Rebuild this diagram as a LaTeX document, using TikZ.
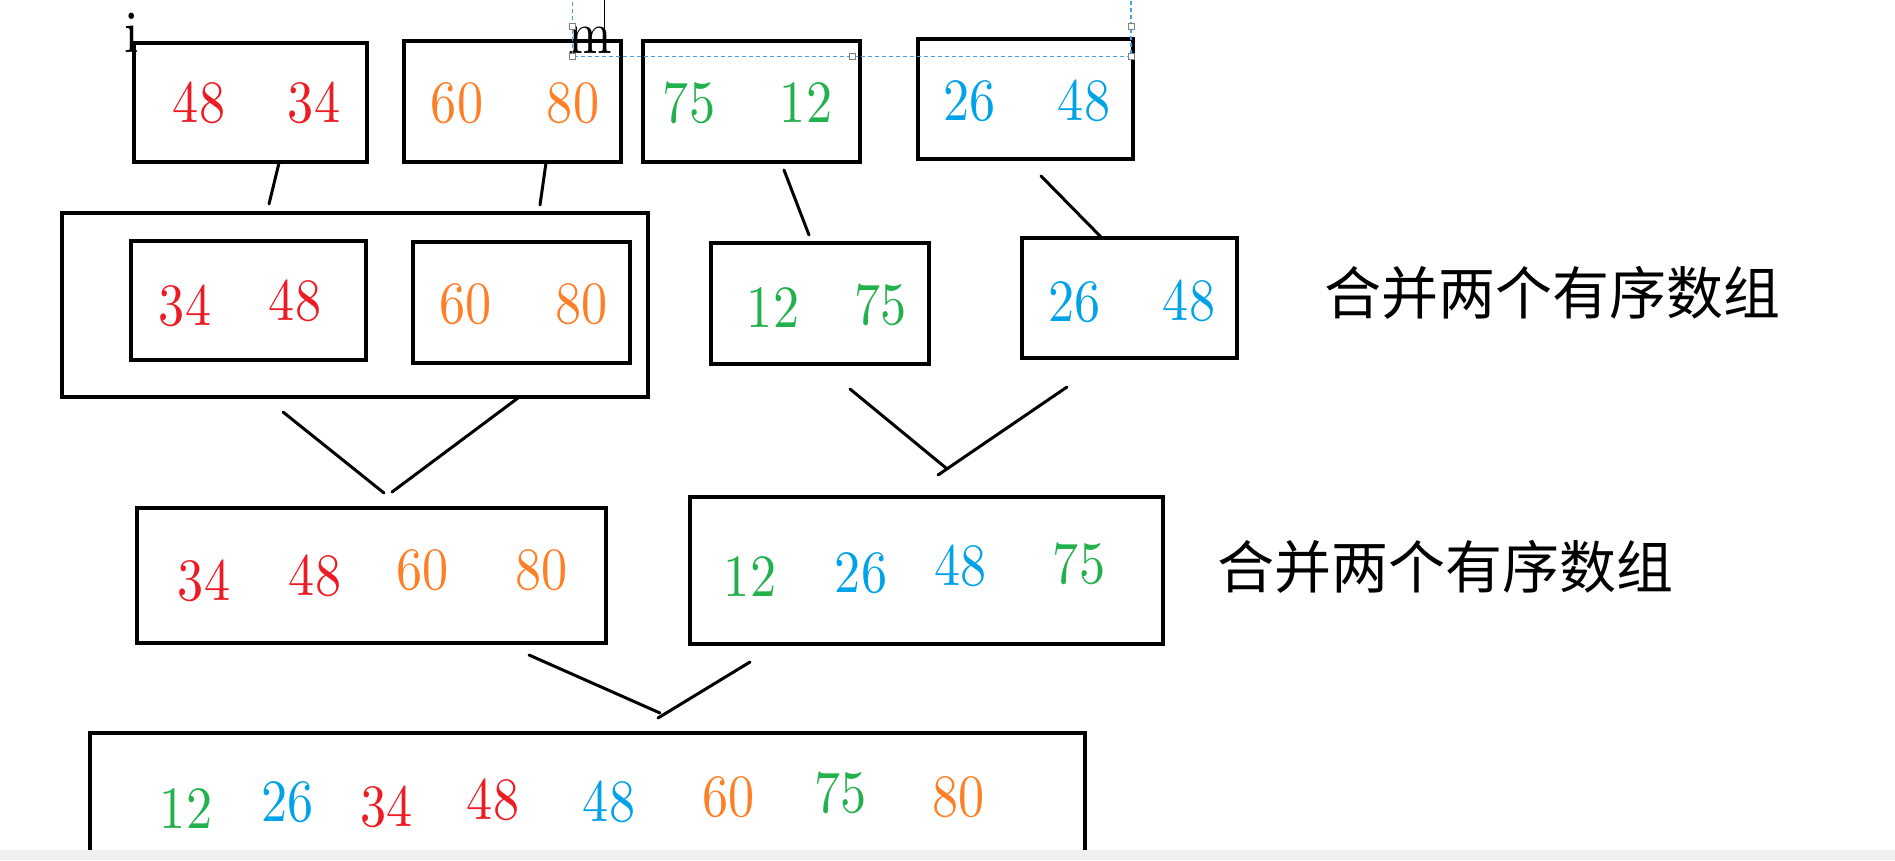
\documentclass[tikz,border=0pt]{standalone}
\usepackage{fontspec}
\newfontfamily\numfont[FakeStretch=0.87]{lmroman10-regular.otf}
\newfontfamily\cjk{Noto Sans CJK SC}
\definecolor{pred}{HTML}{ED1C24}
\definecolor{porange}{HTML}{FF7F27}
\definecolor{pgreen}{HTML}{22B14C}
\definecolor{pblue}{HTML}{00A2E8}
\definecolor{selblue}{HTML}{4A9DE0}
\definecolor{barg}{HTML}{F0F0F0}
\begin{document}
\begin{tikzpicture}
  [x=1pt,y=-1pt,every node/.style={inner sep=0pt,outer sep=0pt}]
  \tikzstyle{box} = [draw=black,line width=3.5pt,shape=rectangle]
  \tikzstyle{num} = [font=\numfont\fontsize{60}{60}\selectfont]
  \tikzstyle{link} = [line width=3pt,line cap=round]
  \tikzstyle{grip} = [draw=gray,fill=white,line width=0.8pt,minimum size=6pt,shape=rectangle]
  \useasboundingbox (0,0) rectangle (1895,860);
  \fill[white] (0,0) rectangle (1895,860);
  \node[box,minimum width=233,minimum height=119] (a) at (250.5,102.5) {};
  \node[box,minimum width=217,minimum height=121] (b) at (512.5,101.5) {};
  \node[box,minimum width=217,minimum height=121] (c) at (751.5,101.5) {};
  \node[box,minimum width=215,minimum height=120] (d) at (1025.5,99) {};
  \node[box,minimum width=586,minimum height=184] (e) at (355,305) {};
  \node[box,minimum width=235,minimum height=119] (e1) at (248.5,300.5) {};
  \node[box,minimum width=217,minimum height=121] (e2) at (521.5,302.5) {};
  \node[box,minimum width=218,minimum height=121] (f) at (820,303.5) {};
  \node[box,minimum width=215,minimum height=120] (g) at (1129.5,298) {};
  \node[box,minimum width=469,minimum height=135] (h) at (371.5,575.5) {};
  \node[box,minimum width=473,minimum height=147] (k) at (926.5,570.5) {};
  \node[box,minimum width=995,minimum height=123] (j) at (587.5,794.5) {};
  \foreach \n/\x/\y/\v/\c in {a1/199/103/48/pred,a2/314/103/34/pred,
    b1/457/103/60/porange,b2/573/103/80/porange,
    c1/689/103/75/pgreen,c2/806/103/12/pgreen,
    d1/969.5/101/26/pblue,d2/1084/101/48/pblue,
    e11/185/306/34/pred,e12/295/301/48/pred,
    e21/465.5/304/60/porange,e22/581.5/304/80/porange,
    f1/773/308/12/pgreen,f2/880.5/305/75/pgreen,
    g1/1074.6/302/26/pblue,g2/1189/301/48/pblue,
    h1/204/581/34/pred,h2/315/576/48/pred,h3/422.5/570/60/porange,h4/541.5/570/80/porange,
    k1/750/577/12/pgreen,k2/861/573/26/pblue,k3/960.5/566/48/pblue,k4/1079/563.5/75/pgreen,
    j1/186/809/12/pgreen,j2/287.5/802/26/pblue,j3/386.5/807/34/pred,j4/493/800/48/pred,
    j5/609/802/48/pblue,j6/728.6/797/60/porange,j7/840.6/793/75/pgreen,j8/958.6/797/80/porange}
   \node[num,text=\c] (\n) at (\x,\y) {\v};
  \node[num,anchor=base] (ti) at (132,52) {i};
  \node[num,anchor=base] (tm) at (590,53) {m};
  \node[anchor=base west,font=\cjk\fontsize{57}{57}\selectfont] (t1) at (1324,314) {合并两个有序数组};
  \node[anchor=base west,font=\cjk\fontsize{57}{57}\selectfont] (t2) at (1217,588) {合并两个有序数组};
  \coordinate (p1) at (279,163);  \coordinate (q1) at (269,204);
  \coordinate (p2) at (546,163);  \coordinate (q2) at (540,205);
  \coordinate (p3) at (784,170);  \coordinate (q3) at (809,235);
  \coordinate (p4) at (1041,176); \coordinate (q4) at (1101,237);
  \coordinate (p5) at (283,412);  \coordinate (q5) at (384,493);
  \coordinate (p6) at (518,398);  \coordinate (q6) at (392,492);
  \coordinate (p7) at (850,389);  \coordinate (q7) at (946,468);
  \coordinate (p8) at (1067,387); \coordinate (q8) at (938,475);
  \coordinate (p9) at (529,655);  \coordinate (q9) at (660,713);
  \coordinate (p10) at (750,662); \coordinate (q10) at (658,718);
  \foreach \source /\dest in {p1/q1,p2/q2,p3/q3,p4/q4,p5/q5,p6/q6,p7/q7,p8/q8,p9/q9,p10/q10}
   \draw[link] (\source) -- (\dest);
  \draw[selblue,line width=1.2pt,dash pattern=on 4pt off 3pt] (572.6,-5) -- (572.6,56.7) -- (1131,56.7) -- (1131,-5);
  \draw[line width=1pt] (604,0) -- (604,53);
  \foreach \n/\x/\y in {s1/572.6/26.7,s2/572.6/56.7,s3/852/56.7,s4/1131/26.7,s5/1131/56.7}
   \node[grip] (\n) at (\x,\y) {};
  \fill[barg] (0,850) rectangle (1895,860);
\end{tikzpicture}
\end{document}
